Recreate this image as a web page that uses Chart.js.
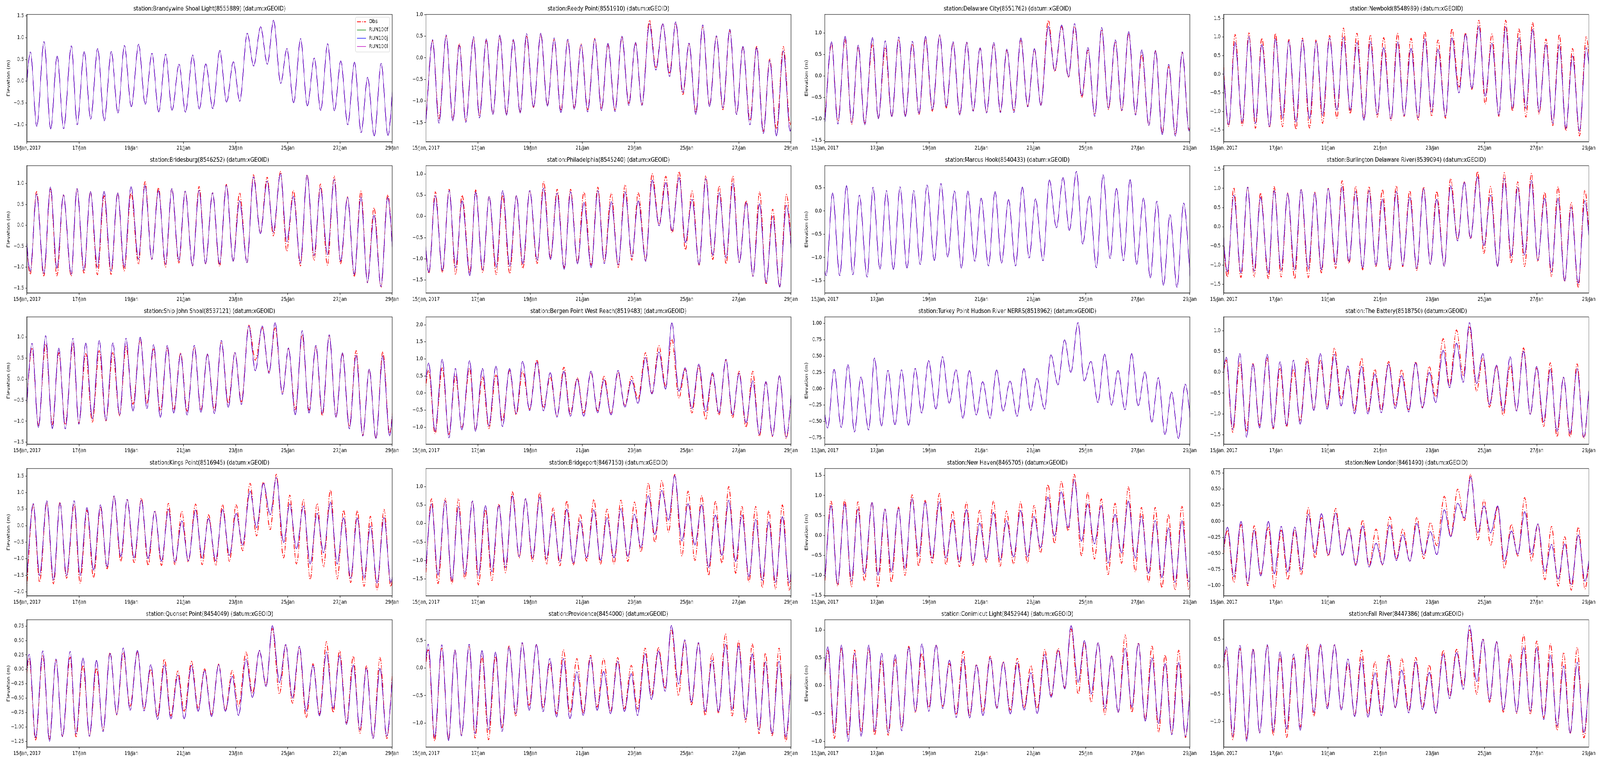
<!DOCTYPE html>
<html><head><meta charset="utf-8">
<script src="https://cdn.jsdelivr.net/npm/chart.js@4.4.0/dist/chart.umd.min.js"></script>
<style>
html,body{margin:0;padding:0;background:#fff;overflow:hidden;}
#outer{position:relative;overflow:hidden;background:#fff;}
#wrap{position:absolute;left:0;top:0;width:5150px;height:1950px;background:#fff;transform-origin:0 0;}
#wrap canvas{position:absolute;}
</style></head><body><div id="outer"><div id="wrap"></div></div>
<script>
// ---------------- data ----------------
const stationTitles = [
 'station:Brandywine Shoal Light(8555889) (datum:xGEOID)',
 'station:Reedy Point(8551910) (datum:xGEOID)',
 'station:Delaware City(8551762) (datum:xGEOID)',
 'station:Newbold(8548989) (datum:xGEOID)',
 'station:Bridesburg(8546252) (datum:xGEOID)',
 'station:Philadelphia(8545240) (datum:xGEOID)',
 'station:Marcus Hook(8540433) (datum:xGEOID)',
 'station:Burlington Delaware River(8539094) (datum:xGEOID)',
 'station:Ship John Shoal(8537121) (datum:xGEOID)',
 'station:Bergen Point West Reach(8519483) (datum:xGEOID)',
 'station:Turkey Point Hudson River NERRS(8518962) (datum:xGEOID)',
 'station:The Battery(8518750) (datum:xGEOID)',
 'station:Kings Point(8516945) (datum:xGEOID)',
 'station:Bridgeport(8467150) (datum:xGEOID)',
 'station:New Haven(8465705) (datum:xGEOID)',
 'station:New London(8461490) (datum:xGEOID)',
 'station:Quonset Point(8454049) (datum:xGEOID)',
 'station:Providence(8454000) (datum:xGEOID)',
 'station:Conimicut Light(8452944) (datum:xGEOID)',
 'station:Fall River(8447386) (datum:xGEOID)'
];
const seriesLabels = ['Obs', 'RUN100f', 'RUN100j', 'RUN100l'];
// hours (from 15 Jan 2017 00:00) of successive high/low waters, read at Brandywine
const extremeHours = [-3.1, 3.1, 9.0, 15.6, 21.8, 27.7, 33.7, 40.8, 46.2, 52.6, 58.6, 65.0, 71.1, 77.5, 83.7, 89.6, 96.0, 102.7, 108.8, 115.0, 121.2, 127.6, 133.5, 139.9, 145.8, 152.5, 158.6, 164.5, 171.0, 177.4, 183.7, 189.9, 195.8, 202.7, 208.6, 215.0, 221.2, 226.9, 233.5, 239.2, 245.4, 251.8, 258.0, 264.4, 270.3, 276.7, 282.9, 288.8, 295.2, 301.4, 307.5, 313.5, 319.6, 326.0, 332.2, 338.4];
// tidal phase shift of each station relative to those hours
const lagHours = [0, 3.0, 3.0, 1.4, -0.2, -0.4, -1.9, 0.2, 1.5, -0.6, -0.5, -0.8, 2.6, 2.1, 2.7, 0.3, -1.1, -1.0, -0.3, -0.7];
const yTickSteps = [0.5, 0.5, 0.5, 0.5, 0.5, 0.5, 0.5, 0.5, 0.5, 0.5, 0.25, 0.5, 0.5, 0.5, 0.5, 0.25, 0.25, 0.5, 0.5, 0.5];
const dayTickHours = [0, 48, 96, 144, 192, 240, 288, 336];
const dayTickLabels = ['15/Jan, 2017', '17/Jan', '19/Jan', '21/Jan', '23/Jan', '25/Jan', '27/Jan', '29/Jan'];

const runBrandywine = [-1.0, 0.67, -1.04, 0.91, -1.10, 0.58, -1.09, 0.81, -1.00, 0.68, -0.87, 0.75, -0.91, 0.68, -0.73, 0.82, -0.59, 0.85, -0.53, 0.64, -0.71, 0.62, -0.67, 0.39, -0.71, 0.60, -0.64, 0.40, -0.63, 0.71, -0.48, 0.45, -0.46, 1.10, 0.35, 1.25, 0.39, 1.40, -0.05, 0.75, -0.50, 0.98, -0.57, 0.53, -0.67, 0.86, -0.68, 0.47, -1.00, 0.44, -1.18, 0.09, -1.26, 0.41, -1.25, 0.55];
const runReedy = [-1.50, 0.42, -1.51, 0.53, -1.46, 0.30, -1.49, 0.49, -1.39, 0.44, -1.31, 0.53, -1.33, 0.43, -1.28, 0.56, -1.14, 0.57, -1.12, 0.46, -1.27, 0.43, -1.19, 0.30, -1.25, 0.43, -1.22, 0.34, -1.24, 0.50, -1.10, 0.36, -1.10, 0.79, -0.28, 0.79, -0.43, 0.83, -0.80, 0.34, -1.31, 0.76, -1.13, 0.51, -1.16, 0.66, -1.31, 0.27, -1.55, 0.24, -1.75, -0.06, -1.81, 0.16, -1.70, 0.20];
const obsReedy = [-1.45, 0.40, -1.40, 0.50, -1.42, 0.33, -1.45, 0.45, -1.33, 0.40, -1.30, 0.50, -1.30, 0.40, -1.25, 0.50, -1.15, 0.55, -1.10, 0.42, -1.22, 0.40, -1.15, 0.32, -1.20, 0.45, -1.18, 0.30, -1.20, 0.47, -1.05, 0.33, -1.08, 0.87, -0.22, 0.78, -0.35, 0.80, -0.85, 0.32, -1.25, 0.73, -1.10, 0.50, -1.20, 0.63, -1.30, 0.25, -1.45, 0.27, -1.70, -0.03, -1.65, 0.26, -1.55, 0.20];
const runDelawareCity = [-1.14, 0.80, -1.12, 0.93, -1.09, 0.72, -1.14, 0.90, -1.00, 0.82, -0.95, 0.91, -0.95, 0.81, -0.88, 0.93, -0.79, 0.96, -0.72, 0.80, -0.91, 0.79, -0.82, 0.66, -0.86, 0.78, -0.85, 0.63, -0.85, 0.89, -0.72, 0.64, -0.69, 1.16, 0.13, 1.19, -0.02, 1.22, -0.46, 0.66, -0.94, 1.13, -0.75, 0.84, -0.80, 1.04, -0.91, 0.61, -1.15, 0.60, -1.37, 0.27, -1.40, 0.56, -1.28, 0.40];
const obsDelawareCity = [-1.05, 0.75, -1.05, 0.85, -1.12, 0.68, -1.10, 0.75, -0.98, 0.65, -0.95, 0.85, -0.93, 0.75, -0.90, 0.88, -0.82, 0.95, -0.75, 0.78, -0.88, 0.78, -0.80, 0.65, -0.85, 0.75, -0.83, 0.60, -0.80, 0.85, -0.70, 0.62, -0.67, 1.30, 0.10, 1.15, -0.03, 1.15, -0.50, 0.60, -0.90, 1.08, -0.78, 0.80, -0.82, 1.00, -0.88, 0.50, -1.15, 0.58, -1.32, 0.22, -1.35, 0.55, -1.25, 0.40];
const runNewbold = [0.75, -1.36, 0.86, -1.29, 1.01, -1.32, 0.80, -1.41, 0.96, -1.18, 0.89, -1.29, 0.92, -1.20, 0.88, -1.11, 0.97, -0.97, 0.99, -0.97, 0.85, -1.24, 0.88, -1.08, 0.72, -1.20, 0.87, -1.11, 0.70, -1.17, 0.96, -1.01, 0.68, -1.13, 0.98, -0.50, 1.08, -0.38, 1.29, -0.59, 0.83, -1.10, 1.27, -0.92, 0.99, -0.92, 1.21, -1.01, 0.80, -1.32, 0.79, -1.46, 0.49, -1.54, 0.71, -1.20];
const obsNewbold = [0.90, -1.40, 1.07, -1.38, 1.11, -1.45, 0.97, -1.43, 1.10, -1.41, 0.93, -1.48, 0.97, -1.45, 0.93, -1.32, 1.04, -1.18, 1.24, -1.06, 1.10, -1.20, 1.06, -1.15, 0.99, -1.24, 1.10, -1.13, 0.97, -1.24, 1.15, -1.13, 0.92, -1.18, 1.22, -0.34, 1.11, -0.41, 1.45, -0.80, 1.08, -1.13, 1.45, -0.99, 1.22, -1.15, 1.39, -1.08, 0.95, -1.38, 1.07, -1.52, 0.69, -1.66, 1.01, -1.10];
const runBridesburg = [0.70, -1.10, 0.75, -1.15, 0.92, -1.03, 0.73, -1.17, 0.88, -1.07, 0.81, -1.00, 0.82, -1.09, 0.78, -1.00, 0.93, -0.81, 0.96, -0.81, 0.84, -0.93, 0.88, -0.84, 0.82, -0.97, 0.84, -0.92, 0.78, -0.93, 0.96, -0.86, 0.59, -0.89, 1.16, -0.20, 1.06, -0.16, 1.24, -0.39, 0.70, -0.90, 1.20, -0.72, 0.90, -0.70, 1.10, -0.86, 0.67, -1.18, 0.68, -1.37, 0.25, -1.46, 0.67, -1.30];
const obsBridesburg = [0.70, -1.17, 0.81, -1.21, 0.87, -1.21, 0.73, -1.21, 0.88, -1.14, 0.81, -1.18, 0.71, -1.17, 0.78, -1.09, 0.78, -0.93, 1.05, -0.81, 0.90, -1.00, 0.88, -0.90, 0.82, -0.97, 0.93, -0.92, 0.78, -0.98, 0.98, -0.86, 0.78, -0.89, 1.21, -0.19, 1.15, -0.25, 1.29, -0.62, 0.84, -0.97, 1.21, -0.84, 0.99, -0.95, 1.18, -0.92, 0.68, -1.23, 0.82, -1.37, 0.42, -1.48, 0.73, -1.30];
const runPhiladelphia = [0.50, -1.32, 0.49, -1.28, 0.61, -1.21, 0.37, -1.40, 0.58, -1.26, 0.47, -1.20, 0.61, -1.18, 0.49, -1.12, 0.61, -1.03, 0.67, -1.02, 0.55, -1.25, 0.58, -1.12, 0.33, -1.21, 0.61, -1.11, 0.35, -1.14, 0.58, -0.95, 0.37, -1.06, 0.86, -0.22, 0.80, -0.34, 0.92, -0.62, 0.40, -1.14, 0.89, -0.92, 0.56, -0.98, 0.78, -1.09, 0.33, -1.41, 0.30, -1.57, 0.00, -1.67, 0.26, -1.30];
const obsPhiladelphia = [0.50, -1.34, 0.58, -1.32, 0.64, -1.37, 0.50, -1.32, 0.63, -1.32, 0.47, -1.37, 0.50, -1.35, 0.49, -1.23, 0.61, -1.11, 0.82, -0.97, 0.64, -1.21, 0.64, -1.08, 0.58, -1.15, 0.69, -1.05, 0.55, -1.20, 0.75, -1.03, 0.56, -1.03, 1.01, -0.19, 0.95, -0.39, 1.06, -0.79, 0.60, -1.15, 0.96, -1.02, 0.72, -1.12, 0.95, -1.08, 0.37, -1.41, 0.58, -1.60, 0.17, -1.66, 0.52, -1.40];
const runMarcusHook = [0.30, -1.39, 0.39, -1.39, 0.55, -1.37, 0.34, -1.42, 0.51, -1.25, 0.44, -1.26, 0.52, -1.23, 0.44, -1.15, 0.56, -1.07, 0.59, -0.99, 0.43, -1.23, 0.43, -1.08, 0.28, -1.18, 0.42, -1.12, 0.25, -1.18, 0.52, -1.01, 0.26, -1.07, 0.67, -0.36, 0.72, -0.42, 0.85, -0.71, 0.32, -1.22, 0.78, -1.02, 0.49, -1.07, 0.68, -1.15, 0.28, -1.44, 0.21, -1.60, -0.08, -1.64, 0.17, -1.50];
const runBurlington = [0.80, -1.18, 0.82, -1.21, 1.03, -1.16, 0.77, -1.21, 0.95, -1.14, 0.87, -1.13, 0.97, -1.11, 0.88, -1.13, 0.99, -0.98, 1.04, -0.91, 0.92, -1.08, 0.94, -1.01, 0.72, -1.09, 0.92, -1.01, 0.77, -1.09, 0.99, -0.98, 0.72, -1.03, 1.07, -0.37, 1.16, -0.30, 1.31, -0.50, 0.82, -1.04, 1.26, -0.77, 1.02, -0.74, 1.21, -0.87, 0.75, -1.18, 0.75, -1.42, 0.51, -1.48, 0.68, -1.30];
const obsBurlington = [0.90, -1.31, 1.02, -1.33, 1.04, -1.31, 0.88, -1.36, 1.05, -1.31, 0.88, -1.36, 0.97, -1.33, 0.90, -1.21, 1.00, -1.09, 1.20, -0.96, 1.05, -1.13, 1.05, -1.04, 0.97, -1.13, 1.07, -1.04, 0.94, -1.14, 1.04, -0.98, 0.92, -1.03, 1.26, -0.33, 1.17, -0.32, 1.44, -0.70, 1.05, -1.04, 1.41, -0.94, 1.17, -1.04, 1.39, -0.91, 0.90, -1.30, 1.04, -1.43, 0.63, -1.58, 0.95, -1.40];
const runShipJohn = [-1.10, 0.85, -1.15, 1.03, -1.18, 0.74, -1.18, 0.97, -1.07, 0.86, -0.94, 0.92, -0.98, 0.86, -0.85, 0.97, -0.76, 1.00, -0.70, 0.82, -0.91, 0.80, -0.81, 0.60, -0.85, 0.80, -0.79, 0.60, -0.82, 0.92, -0.67, 0.63, -0.60, 1.26, 0.20, 1.26, 0.14, 1.34, -0.36, 0.74, -0.85, 1.15, -0.81, 0.80, -0.82, 1.05, -0.91, 0.63, -1.18, 0.57, -1.35, 0.24, -1.41, 0.55, -1.35, 0.50];
const obsShipJohn = [-1.05, 0.74, -1.10, 0.83, -1.08, 0.63, -1.08, 0.85, -1.04, 0.61, -1.02, 0.68, -0.99, 0.63, -0.87, 0.78, -0.60, 0.94, -0.57, 0.72, -0.76, 0.74, -0.73, 0.63, -0.76, 0.75, -0.74, 0.58, -0.73, 0.88, -0.57, 0.63, -0.54, 1.28, 0.45, 1.22, 0.17, 1.22, -0.33, 0.72, -0.73, 1.05, -0.74, 0.77, -0.87, 1.03, -0.88, 0.60, -1.13, 0.68, -1.33, 0.23, -1.41, 0.65, -1.28, 0.50];
const runBergen = [-1.00, 0.88, -1.12, 0.99, -1.31, 0.72, -1.08, 0.95, -1.12, 0.72, -0.96, 0.79, -0.98, 0.72, -0.60, 0.93, -0.51, 0.91, -0.52, 0.60, -0.70, 0.64, -0.68, 0.41, -0.68, 0.64, -0.58, 0.39, -0.64, 0.66, -0.41, 0.37, -0.30, 1.04, -0.03, 1.20, 0.11, 2.06, 0.05, 0.74, -0.45, 0.85, -0.54, 0.60, -0.58, 0.99, -0.64, 0.58, -0.87, 0.36, -1.21, 0.34, -1.25, 0.51, -1.29, 0.50];
const obsBergen = [-1.00, 0.66, -1.19, 0.74, -1.21, 0.51, -1.02, 0.72, -1.08, 0.47, -1.04, 0.53, -0.81, 0.66, -0.64, 0.64, -0.47, 0.97, -0.41, 0.47, -0.68, 0.76, -0.60, 0.45, -0.58, 0.60, -0.52, 0.49, -0.60, 0.60, -0.37, 0.49, -0.18, 1.18, -0.01, 1.39, 0.20, 1.58, -0.14, 0.70, -0.58, 0.79, -0.77, 0.55, -0.64, 0.97, -0.72, 0.64, -1.00, 0.64, -1.27, 0.32, -1.27, 0.51, -1.33, 0.50];
const runTurkeyPoint = [0.20, -0.60, 0.30, -0.59, 0.37, -0.66, 0.18, -0.63, 0.47, -0.57, 0.28, -0.55, 0.29, -0.56, 0.31, -0.37, 0.43, -0.31, 0.49, -0.22, 0.29, -0.45, 0.28, -0.40, 0.11, -0.45, 0.29, -0.34, 0.12, -0.42, 0.31, -0.33, 0.16, -0.31, 0.52, 0.06, 0.75, 0.25, 1.01, 0.12, 0.42, -0.21, 0.53, -0.25, 0.28, -0.32, 0.54, -0.26, 0.26, -0.51, 0.17, -0.70, -0.05, -0.76, 0.07, -0.70];
const runBattery = [-1.00, 0.36, -1.37, 0.45, -1.56, 0.20, -1.34, 0.43, -1.34, 0.25, -1.28, 0.29, -1.25, 0.26, -0.92, 0.45, -0.89, 0.43, -0.81, 0.15, -1.00, 0.14, -1.00, -0.04, -0.97, 0.20, -0.87, -0.08, -0.95, 0.23, -0.86, 0.00, -0.73, 0.53, -0.37, 0.70, -0.24, 1.19, -0.27, 0.45, -0.78, 0.17, -0.93, 0.37, -0.93, 0.51, -1.01, 0.14, -1.19, 0.07, -1.42, -0.12, -1.47, 0.09, -1.56, 0.10];
const obsBattery = [-1.00, 0.29, -1.44, 0.23, -1.41, 0.21, -1.28, 0.34, -1.36, 0.09, -1.31, 0.07, -1.17, 0.34, -0.89, 0.28, -0.82, 0.58, -0.64, 0.07, -0.92, 0.34, -0.93, 0.07, -0.90, 0.26, -0.79, 0.06, -0.90, 0.25, -0.84, 0.14, -0.59, 0.81, -0.31, 1.02, -0.07, 1.09, -0.46, 0.34, -0.84, 0.14, -1.04, 0.17, -0.93, 0.59, -1.01, 0.10, -1.30, 0.23, -1.55, -0.12, -1.56, 0.20, -1.59, 0.10];
const runKingsPoint = [-1.65, 0.67, -1.51, 0.75, -1.65, 0.69, -1.51, 0.75, -1.51, 0.55, -1.35, 0.63, -1.25, 0.90, -0.94, 0.79, -0.98, 0.77, -1.00, 0.43, -1.08, 0.49, -1.10, 0.14, -1.06, 0.47, -0.98, 0.22, -1.06, 0.49, -0.90, 0.37, -0.59, 1.04, -0.06, 1.28, 0.33, 1.45, -0.51, 0.65, -0.70, 0.59, -1.16, 0.37, -0.82, 0.71, -1.16, 0.24, -1.59, 0.24, -1.59, -0.02, -1.74, 0.24, -1.72, 0.30];
const obsKingsPoint = [-1.95, 0.63, -1.71, 0.71, -1.76, 0.71, -1.59, 0.63, -1.74, 0.47, -1.57, 0.55, -1.31, 0.88, -1.08, 0.79, -1.12, 0.83, -1.20, 0.45, -1.21, 0.67, -1.18, 0.43, -1.10, 0.65, -1.18, 0.33, -1.20, 0.63, -1.08, 0.63, -0.76, 1.28, -0.31, 1.32, -0.12, 1.55, -0.98, 0.92, -1.16, 0.79, -1.63, 0.67, -1.25, 1.08, -1.61, 0.47, -1.72, 0.45, -1.84, 0.28, -1.94, 0.49, -1.84, 0.50];
const runBridgeport = [-1.55, 0.53, -1.40, 0.61, -1.54, 0.46, -1.37, 0.61, -1.40, 0.49, -1.30, 0.49, -1.19, 0.75, -0.89, 0.67, -0.93, 0.72, -0.96, 0.26, -1.03, 0.39, -1.07, 0.07, -0.93, 0.37, -1.00, 0.16, -0.93, 0.40, -0.89, 0.25, -0.65, 0.75, -0.30, 0.89, 0.09, 1.30, -0.47, 0.54, -0.58, 0.51, -1.19, 0.23, -0.86, 0.63, -1.03, 0.23, -1.44, 0.11, -1.54, 0.05, -1.59, 0.19, -1.60, 0.30];
const obsBridgeport = [-1.80, 0.67, -1.63, 0.68, -1.63, 0.67, -1.49, 0.61, -1.66, 0.37, -1.54, 0.53, -1.33, 0.86, -0.93, 0.67, -1.02, 0.84, -1.10, 0.42, -1.14, 0.61, -1.12, 0.26, -1.02, 0.65, -1.10, 0.39, -1.09, 0.63, -1.03, 0.58, -0.77, 1.09, -0.51, 1.16, -0.23, 1.33, -0.88, 0.88, -1.00, 0.75, -1.40, 0.60, -1.07, 1.00, -1.35, 0.46, -1.58, 0.46, -1.73, 0.35, -1.77, 0.51, -1.80, 0.40];
const runNewHaven = [-1.25, 0.75, -1.22, 0.79, -1.14, 0.66, -0.96, 0.83, -1.00, 0.66, -0.91, 0.68, -0.83, 0.92, -0.51, 0.84, -0.57, 0.84, -0.57, 0.40, -0.67, 0.65, -0.70, 0.31, -0.59, 0.58, -0.62, 0.37, -0.54, 0.63, -0.54, 0.48, -0.31, 0.96, -0.02, 1.09, 0.19, 1.40, -0.15, 0.79, -0.21, 0.75, -0.69, 0.53, -0.44, 0.86, -0.57, 0.48, -0.95, 0.37, -1.06, 0.19, -1.17, 0.37, -1.16, 0.40];
const obsNewHaven = [-1.35, 0.86, -1.27, 0.89, -1.29, 0.84, -1.14, 0.83, -1.29, 0.66, -1.17, 0.71, -1.00, 1.02, -0.77, 0.88, -0.69, 1.05, -0.74, 0.61, -0.78, 0.83, -0.75, 0.63, -0.67, 0.86, -0.77, 0.61, -0.72, 0.84, -0.69, 0.75, -0.44, 1.27, -0.20, 1.35, 0.11, 1.53, -0.51, 1.07, -0.59, 0.92, -0.98, 0.81, -0.70, 1.22, -0.91, 0.70, -1.17, 0.70, -1.31, 0.52, -1.37, 0.73, -1.35, 0.60];
const runNewLondon = [-0.85, -0.09, -0.86, 0.00, -0.97, -0.14, -0.85, 0.00, -0.82, -0.08, -0.79, -0.09, -0.76, 0.11, -0.49, 0.12, -0.52, 0.13, -0.53, -0.12, -0.69, -0.07, -0.71, -0.34, -0.67, -0.06, -0.61, -0.21, -0.62, -0.03, -0.52, -0.16, -0.52, 0.18, -0.24, 0.28, 0.05, 0.69, -0.18, 0.24, -0.18, 0.24, -0.62, -0.15, -0.51, 0.15, -0.51, -0.04, -0.78, -0.36, -0.90, -0.35, -0.98, -0.21, -0.93, -0.20];
const obsNewLondon = [-0.90, -0.14, -0.95, -0.05, -1.00, -0.07, -0.82, -0.09, -1.04, -0.14, -0.91, -0.14, -0.84, 0.21, -0.57, 0.06, -0.54, 0.20, -0.52, -0.10, -0.67, 0.02, -0.69, -0.12, -0.68, 0.07, -0.58, -0.12, -0.62, 0.06, -0.58, -0.02, -0.38, 0.39, -0.23, 0.50, 0.01, 0.73, -0.29, 0.33, -0.37, 0.22, -0.73, -0.05, -0.54, 0.37, -0.62, -0.05, -0.91, -0.08, -1.01, -0.24, -1.07, -0.09, -1.05, -0.10];
const runQuonset = [-1.00, 0.26, -1.19, 0.32, -1.25, 0.18, -1.17, 0.31, -1.12, 0.20, -1.16, 0.16, -1.08, 0.28, -0.78, 0.37, -0.71, 0.33, -0.72, 0.08, -0.87, 0.08, -0.86, -0.10, -0.86, 0.07, -0.73, -0.02, -0.82, 0.08, -0.73, -0.12, -0.80, 0.18, -0.49, 0.33, -0.30, 0.76, -0.23, 0.43, -0.50, 0.40, -0.73, 0.07, -0.81, 0.30, -0.68, 0.24, -0.96, 0.08, -1.05, 0.02, -1.20, 0.02, -1.16, 0.10];
const obsQuonset = [-1.00, 0.18, -1.23, 0.24, -1.21, 0.16, -1.16, 0.21, -1.17, 0.07, -1.16, 0.02, -1.05, 0.29, -0.79, 0.29, -0.64, 0.30, -0.68, 0.00, -0.81, 0.18, -0.81, -0.03, -0.73, 0.14, -0.68, 0.01, -0.79, 0.09, -0.71, -0.02, -0.64, 0.30, -0.41, 0.32, -0.27, 0.71, -0.43, 0.43, -0.59, 0.38, -0.84, 0.10, -0.78, 0.48, -0.75, 0.33, -0.93, 0.23, -1.11, 0.06, -1.19, 0.21, -1.20, 0.20];
const runProvidence = [-1.00, 0.43, -1.26, 0.42, -1.32, 0.33, -1.23, 0.43, -1.19, 0.32, -1.12, 0.29, -1.15, 0.38, -0.83, 0.46, -0.77, 0.43, -0.79, 0.17, -0.89, 0.17, -0.92, -0.07, -0.86, 0.19, -0.77, -0.06, -0.83, 0.12, -0.79, -0.10, -0.86, 0.26, -0.57, 0.31, -0.42, 0.77, -0.29, 0.51, -0.62, 0.46, -0.79, 0.14, -0.79, 0.43, -0.76, 0.40, -0.93, 0.26, -1.12, 0.11, -1.19, 0.12, -1.25, 0.20];
const obsProvidence = [-1.00, 0.33, -1.32, 0.36, -1.29, 0.32, -1.21, 0.40, -1.27, 0.21, -1.30, 0.21, -1.08, 0.40, -0.88, 0.45, -0.68, 0.42, -0.71, 0.08, -0.83, 0.33, -0.81, 0.17, -0.81, 0.23, -0.71, 0.17, -0.79, 0.19, -0.74, 0.05, -0.74, 0.36, -0.50, 0.37, -0.36, 0.70, -0.50, 0.48, -0.67, 0.45, -0.86, 0.26, -0.82, 0.62, -0.87, 0.49, -0.98, 0.44, -1.19, 0.27, -1.23, 0.36, -1.33, 0.30];
const runConimicut = [-0.80, 0.70, -0.85, 0.73, -1.00, 0.58, -0.91, 0.73, -0.82, 0.58, -0.84, 0.56, -0.81, 0.69, -0.46, 0.75, -0.46, 0.73, -0.41, 0.46, -0.57, 0.48, -0.58, 0.37, -0.54, 0.50, -0.41, 0.42, -0.51, 0.41, -0.44, 0.23, -0.50, 0.56, -0.21, 0.63, -0.06, 1.08, 0.06, 0.81, -0.15, 0.77, -0.41, 0.53, -0.48, 0.67, -0.39, 0.76, -0.64, 0.50, -0.68, 0.40, -0.88, 0.42, -0.91, 0.50];
const obsConimicut = [-0.80, 0.63, -0.95, 0.67, -0.88, 0.64, -0.82, 0.67, -0.89, 0.46, -0.89, 0.48, -0.75, 0.71, -0.48, 0.58, -0.39, 0.73, -0.37, 0.40, -0.51, 0.62, -0.53, 0.38, -0.46, 0.53, -0.39, 0.43, -0.44, 0.49, -0.39, 0.36, -0.41, 0.65, -0.18, 0.67, -0.04, 1.02, -0.15, 0.78, -0.30, 0.77, -0.52, 0.54, -0.48, 0.91, -0.48, 0.77, -0.60, 0.71, -0.84, 0.55, -0.85, 0.64, -0.93, 0.60];
const runFallRiver = [-0.90, 0.36, -1.27, 0.39, -1.36, 0.32, -1.21, 0.40, -1.18, 0.27, -1.14, 0.23, -1.16, 0.35, -0.84, 0.41, -0.77, 0.40, -0.79, 0.14, -0.91, 0.14, -0.92, -0.11, -0.89, 0.14, -0.75, -0.06, -0.84, 0.09, -0.78, -0.10, -0.85, 0.23, -0.58, 0.26, -0.41, 0.75, -0.27, 0.50, -0.61, 0.46, -0.79, 0.14, -0.83, 0.35, -0.81, 0.35, -0.96, 0.21, -1.08, 0.01, -1.21, 0.08, -1.20, 0.20];
const obsFallRiver = [-0.90, 0.30, -1.33, 0.33, -1.31, 0.33, -1.20, 0.38, -1.25, 0.19, -1.29, 0.16, -1.10, 0.41, -0.90, 0.38, -0.72, 0.40, -0.77, 0.05, -0.89, 0.30, -0.86, 0.09, -0.84, 0.21, -0.74, 0.15, -0.79, 0.17, -0.74, 0.03, -0.84, 0.30, -0.53, 0.32, -0.34, 0.67, -0.50, 0.51, -0.65, 0.45, -0.83, 0.22, -0.85, 0.58, -0.87, 0.47, -0.93, 0.42, -1.16, 0.26, -1.22, 0.35, -1.30, 0.30];

const modelSeries = [runBrandywine, runReedy, runDelawareCity, runNewbold, runBridesburg, runPhiladelphia, runMarcusHook, runBurlington, runShipJohn, runBergen, runTurkeyPoint, runBattery, runKingsPoint, runBridgeport, runNewHaven, runNewLondon, runQuonset, runProvidence, runConimicut, runFallRiver];
const obsSeries = [null, obsReedy, obsDelawareCity, obsNewbold, obsBridesburg, obsPhiladelphia, null, obsBurlington, obsShipJohn, obsBergen, null, obsBattery, obsKingsPoint, obsBridgeport, obsNewHaven, obsNewLondon, obsQuonset, obsProvidence, obsConimicut, obsFallRiver];

// ---------------- layout / style ----------------
const FONT = 'DejaVu Sans';
const PAGE_W = 5150, PAGE_H = 1950;
const GRID = {x0: 87, dx: 1284, y0: 37, dy: 387.2, w: 1175, h: 326, axW: 80, padR: 40, titleH: 37, axH: 40};

// fit the 5150x1950 design into the CSS viewport the window really has
const vw = window.innerWidth || PAGE_W;
const vh = window.innerHeight || PAGE_H;
const SX = vw / PAGE_W, SY = vh / PAGE_H;
const outer = document.getElementById('outer');
outer.style.width = vw + 'px';
outer.style.height = vh + 'px';
const wrap = document.getElementById('wrap');
wrap.style.transform = 'scale(' + SX + ',' + SY + ')';
const PR = (window.devicePixelRatio || 1) * Math.max(SX, SY);

const framePlugin = {
  id: 'frame',
  afterDatasetsDraw(chart) {
    const {ctx, chartArea: a} = chart;
    ctx.save();
    ctx.strokeStyle = '#000'; ctx.lineWidth = 1.1;
    ctx.strokeRect(a.left, a.top, a.right - a.left, a.bottom - a.top);
    ctx.restore();
  }
};
const boxLegend = {
  id: 'boxLegend',
  afterDraw(chart, args, opts) {
    if (!opts.show) return;
    const {ctx, chartArea: a} = chart;
    const w = 111, h = 89, x = a.right - 7 - w, y = a.top + 7, r = 4;
    ctx.save();
    ctx.beginPath();
    ctx.moveTo(x + r, y);
    ctx.arcTo(x + w, y, x + w, y + h, r);
    ctx.arcTo(x + w, y + h, x, y + h, r);
    ctx.arcTo(x, y + h, x, y, r);
    ctx.arcTo(x, y, x + w, y, r);
    ctx.closePath();
    ctx.fillStyle = 'rgba(255,255,255,0.8)'; ctx.fill();
    ctx.strokeStyle = '#cccccc'; ctx.lineWidth = 1; ctx.stroke();
    chart.data.datasets.forEach((ds, i) => {
      const yy = y + 11.7 + i * 21.1;
      ctx.beginPath();
      ctx.setLineDash(ds.borderDash || []);
      ctx.strokeStyle = ds.legendColor; ctx.lineWidth = ds.borderWidth;
      ctx.moveTo(x + 5, yy); ctx.lineTo(x + 34, yy); ctx.stroke();
      ctx.setLineDash([]);
      ctx.fillStyle = '#000'; ctx.font = '13.9px "' + FONT + '"';
      ctx.textBaseline = 'middle'; ctx.textAlign = 'left';
      ctx.fillText(ds.label, x + 44, yy);
    });
    ctx.restore();
  }
};

function fmtY(step) {
  return v => {
    if (Math.abs(v) < 1e-9) v = 0;
    const s = v.toFixed(step < 0.5 ? 2 : 1);
    return s.replace('-', '\u2212');
  };
}

stationTitles.forEach((title, idx) => {
  const col = idx % 4, row = Math.floor(idx / 4);
  const cw = GRID.axW + GRID.w + GRID.padR, ch = GRID.titleH + GRID.h + GRID.axH;
  const cv = document.createElement('canvas');
  cv.style.width = cw + 'px'; cv.style.height = ch + 'px';
  cv.style.left = (GRID.x0 + col * GRID.dx - GRID.axW) + 'px';
  cv.style.top = (GRID.y0 + row * GRID.dy - GRID.titleH) + 'px';
  cv.width = cw; cv.height = ch;
  wrap.appendChild(cv);

  const lag = lagHours[idx];
  const toPts = vals => vals.map((v, i) => ({x: extremeHours[i] + lag, y: v}));
  const run = modelSeries[idx], obs = obsSeries[idx];
  const all = run.concat(obs || []);
  const dmin = Math.min(...all), dmax = Math.max(...all);
  const m = 0.05 * (dmax - dmin);
  const step = yTickSteps[idx];

  const datasets = [
    {label: seriesLabels[0], data: obs ? toPts(obs) : [], borderColor: '#ff0000', legendColor: '#ff0000', borderWidth: 2, borderDash: [13, 3.5, 2.5, 3.5], order: 4},
    {label: seriesLabels[1], data: toPts(run), borderColor: '#008000', legendColor: '#008000', borderWidth: 1.4, order: 3},
    {label: seriesLabels[2], data: toPts(run), borderColor: '#0000ff', legendColor: '#0000ff', borderWidth: 1.4, order: 2},
    {label: seriesLabels[3], data: toPts(run), borderColor: 'rgba(191,0,191,0.7)', legendColor: '#bf00bf', borderWidth: 1.4, order: 1}
  ];

  new Chart(cv, {
    type: 'line',
    data: {datasets},
    plugins: [framePlugin, boxLegend],
    options: {
      responsive: false, maintainAspectRatio: false, animation: false, devicePixelRatio: PR,
      layout: {padding: {left: 0, right: GRID.padR, top: 0, bottom: 0}},
      elements: {point: {radius: 0, hoverRadius: 0}, line: {cubicInterpolationMode: 'monotone', fill: false}},
      events: [],
      plugins: {
        legend: {display: false},
        tooltip: {enabled: false},
        boxLegend: {show: idx === 0},
        title: {display: true, text: title, fullSize: false, color: '#000',
                font: {family: FONT, size: 16.7, weight: 'normal'}, padding: {top: 13, bottom: 3.96}}
      },
      scales: {
        x: {
          type: 'linear', min: 0, max: 336,
          ticks: {stepSize: 48, autoSkip: false, maxRotation: 0, minRotation: 0, color: '#000', padding: 3.4,
                  font: {family: FONT, size: 13.9},
                  callback: v => { const k = dayTickHours.indexOf(v); return k >= 0 ? dayTickLabels[k] : ''; }},
          grid: {display: true, drawOnChartArea: false, drawTicks: true, tickLength: 5, color: '#000', lineWidth: 1.1},
          border: {display: true, color: '#000', width: 1.1},
          afterFit: s => { s.height = GRID.axH; }
        },
        y: {
          type: 'linear', min: dmin - m, max: dmax + m,
          ticks: {stepSize: step, includeBounds: false, color: '#000', padding: 4.8,
                  font: {family: FONT, size: 13.9}, callback: fmtY(step)},
          grid: {display: true, drawOnChartArea: false, drawTicks: true, tickLength: 5, color: '#000', lineWidth: 1.1},
          border: {display: true, color: '#000', width: 1.1},
          title: {display: col % 2 === 0, text: 'Elevation (m)', color: '#000',
                  font: {family: FONT, size: 13.9}, padding: {top: 12.7, bottom: 0}},
          afterFit: s => { s.width = GRID.axW; }
        }
      }
    }
  });
});
</script>
</body></html>
